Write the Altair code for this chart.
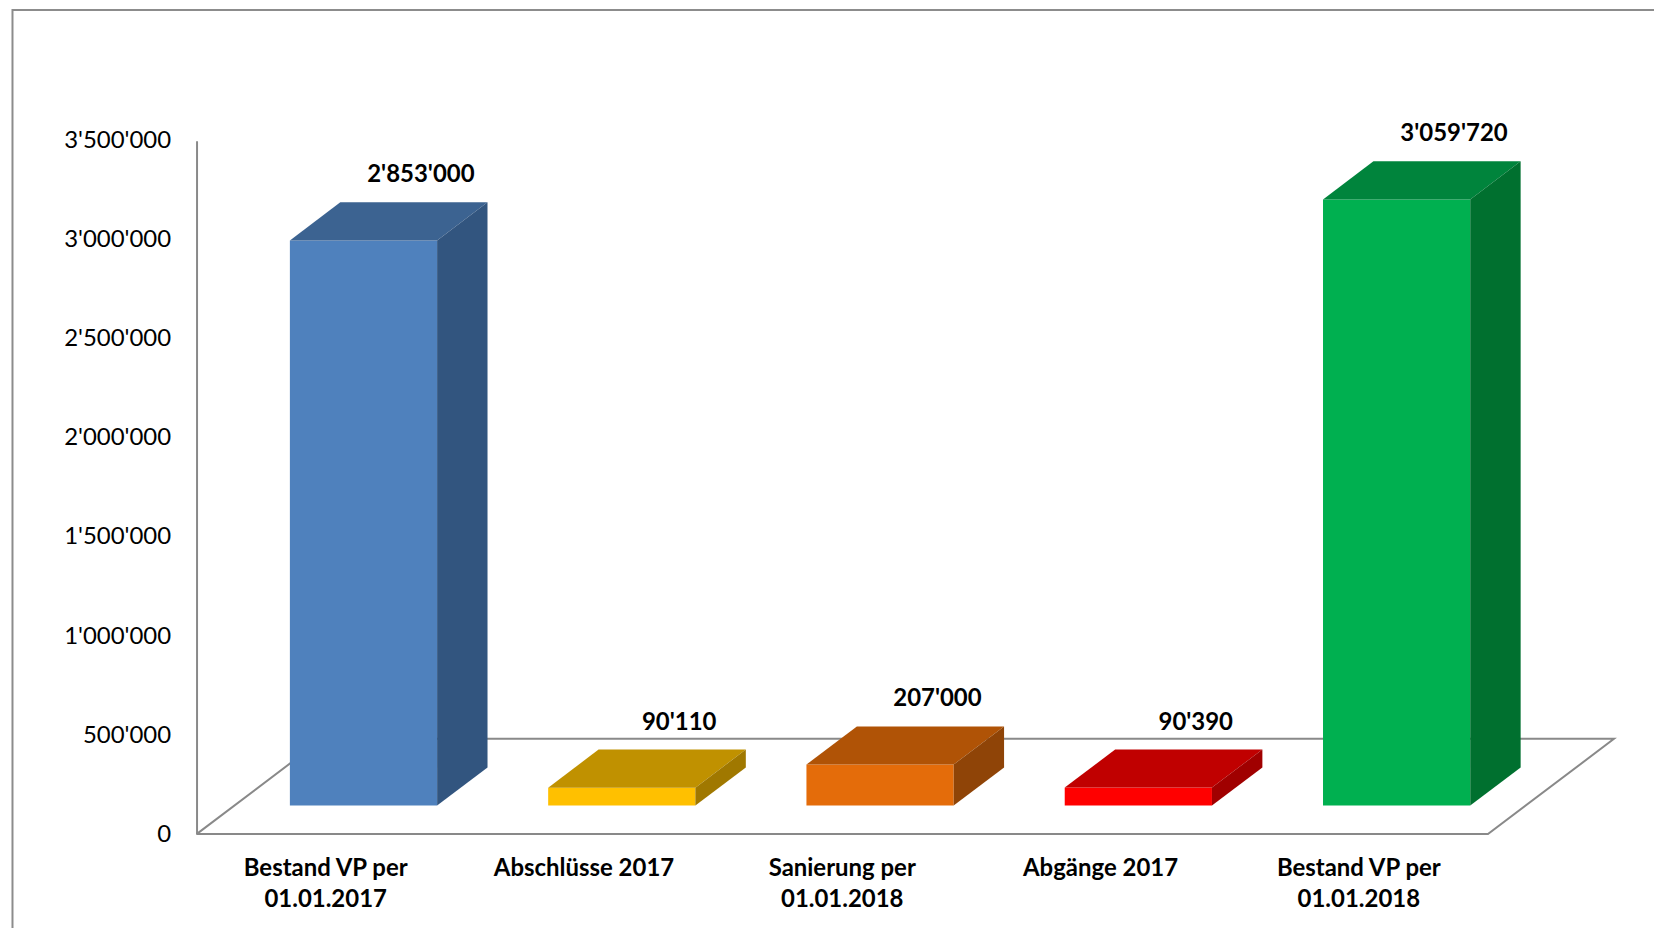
import altair as alt
import pandas as pd

# ---- data ----
categories = ["Bestand VP per\n01.01.2017", "Abschlüsse 2017", "Sanierung per\n01.01.2018",
              "Abgänge  2017", "Bestand VP per\n01.01.2018"]
values = [2853000, 90110, 207000, 90390, 3059720]
value_labels = ["2'853'000", "90'110", "207'000", "90'390", "3'059'720"]
front_colors = ["#4F81BD", "#FFC000", "#E46C0A", "#FF0000", "#00B050"]
top_colors = ["#3C6391", "#C09100", "#B05306", "#C00000", "#00843C"]
side_colors = ["#32557F", "#A07800", "#8F4407", "#A00000", "#00702F"]
y_ticks = [0, 500000, 1000000, 1500000, 2000000, 2500000, 3000000, 3500000]

# ---- 3D projection style constants ----
DX = 0.488        # x shift (category units) per unit of depth
DV = 481000       # y shift (value units) per unit of depth
BAR_W = 0.57
D0, D1 = 0.3, 0.7
N = len(values)

W, H = 1424, 695
FONT = "Lato"
FS = 24

front_rows, top_rows, side_rows, lab_rows, cat_rows = [], [], [], [], []
for i, v in enumerate(values):
    uL = i + 0.5 - BAR_W / 2 + D0 * DX
    uR = uL + BAR_W
    sx = (D1 - D0) * DX
    sy = (D1 - D0) * DV
    front_rows.append(dict(bar=i, x=uL, x2=uR, y=D0 * DV, y2=v + D0 * DV, c=front_colors[i]))
    top_rows += [dict(bar=i, y=v + D0 * DV, x=uL, x2=uR, c=top_colors[i]),
                 dict(bar=i, y=v + D0 * DV + sy, x=uL + sx, x2=uR + sx, c=top_colors[i])]
    side_rows += [dict(bar=i, x=uR, y=D0 * DV, y2=v + D0 * DV, c=side_colors[i]),
                  dict(bar=i, x=uR + sx, y=D0 * DV + sy, y2=v + D0 * DV + sy, c=side_colors[i])]
    lab_rows.append(dict(x=(uL + uR) / 2 + sx, y=v + D1 * DV, t=value_labels[i]))
    cat_rows.append(dict(x=i + 0.5, t=categories[i]))

floor_rows = [dict(o=0, x=0, y=0), dict(o=1, x=N, y=0), dict(o=2, x=N + DX, y=DV),
              dict(o=3, x=DX, y=DV), dict(o=4, x=0, y=0)]

xs = alt.Scale(domain=[0, 5.5], nice=False, zero=False)
ys = alt.Scale(domain=[0, 3500000], nice=False)

border = alt.Chart(pd.DataFrame({"a": [0]})).mark_rect(
    filled=False, color="#8C8C8C", strokeWidth=2
).encode(x=alt.value(-184.5), x2=alt.value(W + 200), y=alt.value(-131), y2=alt.value(H + 200))

floor = alt.Chart(pd.DataFrame(floor_rows)).mark_line(color="#898989", strokeWidth=2).encode(
    x=alt.X("x:Q", scale=xs, axis=None),
    y=alt.Y("y:Q", scale=ys, axis=alt.Axis(values=y_ticks, title=None, grid=False, ticks=False,
                                           domainColor="#898989", domainWidth=2,
                                           labelFont=FONT, labelFontSize=FS, labelColor="#000000",
                                           labelPadding=26,
                                           labelExpr="replace(format(datum.value, ','), /,/g, \"'\")")),
    order="o:Q",
)

front = alt.Chart(pd.DataFrame(front_rows)).mark_rect().encode(
    x=alt.X("x:Q", scale=xs), x2="x2", y=alt.Y("y:Q", scale=ys), y2="y2",
    color=alt.Color("c:N", scale=None),
)

top = alt.Chart(pd.DataFrame(top_rows)).mark_area(orient="horizontal").encode(
    y=alt.Y("y:Q", scale=ys), x=alt.X("x:Q", scale=xs), x2="x2",
    color=alt.Color("c:N", scale=None), detail="bar:N",
)

side = alt.Chart(pd.DataFrame(side_rows)).mark_area(orient="vertical").encode(
    x=alt.X("x:Q", scale=xs), y=alt.Y("y:Q", scale=ys), y2="y2",
    color=alt.Color("c:N", scale=None), detail="bar:N",
)

labels = alt.Chart(pd.DataFrame(lab_rows)).mark_text(
    font=FONT, fontSize=FS, fontWeight="bold", color="#000000", dx=7, dy=-27, baseline="middle"
).encode(x=alt.X("x:Q", scale=xs), y=alt.Y("y:Q", scale=ys), text="t:N")

cats = alt.Chart(pd.DataFrame(cat_rows)).mark_text(
    font=FONT, fontSize=FS, fontWeight="bold", color="#000000", baseline="alphabetic",
    lineBreak="\n", lineHeight=31.6
).encode(x=alt.X("x:Q", scale=xs), y=alt.value(H + 41.7), text="t:N")

chart = alt.layer(border, floor, front, top, side, labels, cats).properties(
    width=W, height=H,
    autosize=alt.AutoSizeParams(type="none"),
    padding={"left": 189, "top": 132, "right": 37, "bottom": 93},
).configure_view(stroke="transparent")

chart.save("out.html", embed_options={"renderer": "svg", "actions": False})
